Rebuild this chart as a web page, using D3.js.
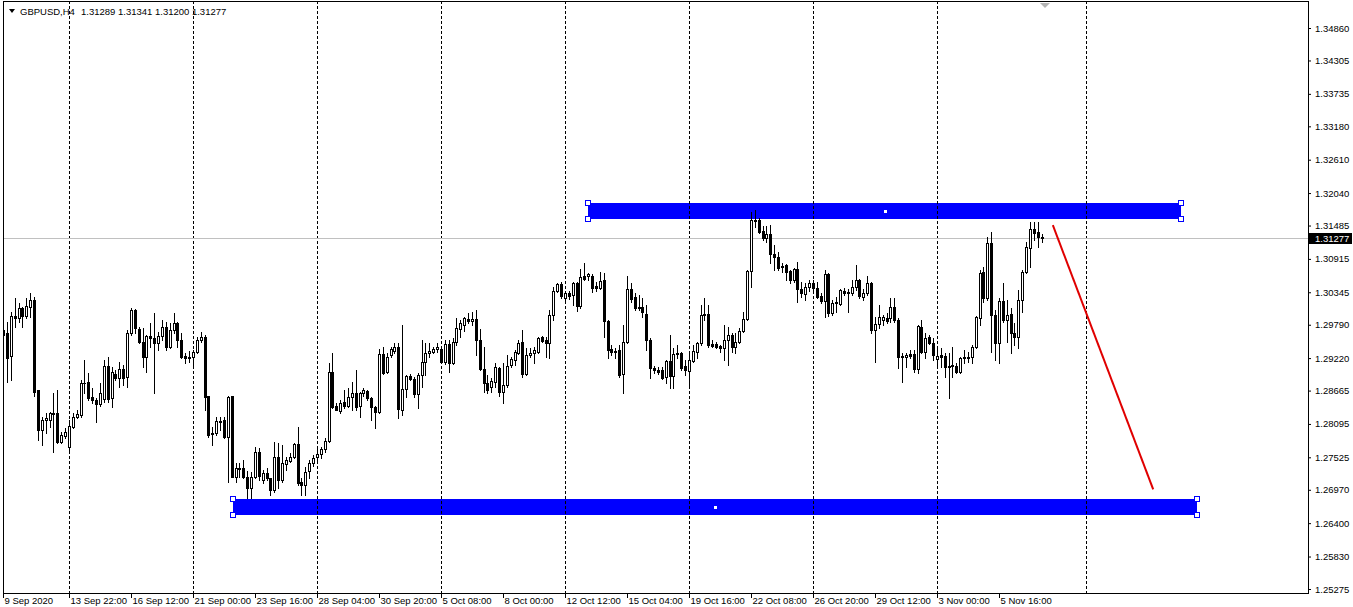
<!DOCTYPE html>
<html><head><meta charset="utf-8">
<script src="https://cdn.jsdelivr.net/npm/d3@7"></script>
<style>
html,body{margin:0;padding:0;background:#fff;overflow:hidden}
svg{display:block;font-family:Tahoma,"Liberation Sans",Arial,sans-serif}
</style></head><body>
<svg id="c" width="1353" height="607"></svg>
<script>
const symbolName = "GBPUSD,H4";

const openP = [
1.2970,1.2965,1.2926,1.2994,1.2990,1.3007,1.2994,1.3009,1.3021,1.2867,
1.2799,1.2816,1.2816,1.2828,1.2828,1.2779,1.2789,1.2770,1.2804,1.2821,
1.2824,1.2880,1.2882,1.2855,1.2850,1.2843,1.2852,1.2909,1.2853,1.2895,
1.2888,1.2904,1.2890,1.2965,1.3004,1.2972,1.2950,1.2924,1.2960,1.2956,
1.2948,1.2960,1.2975,1.2941,1.2970,1.2982,1.2953,1.2926,1.2922,1.2924,
1.2933,1.2953,1.2958,1.2858,1.2794,1.2794,1.2814,1.2816,1.2787,1.2857,
1.2719,1.2734,1.2734,1.2719,1.2700,1.2719,1.2762,1.2714,1.2726,1.2717,
1.2697,1.2753,1.2714,1.2741,1.2746,1.2753,1.2775,1.2711,1.2705,1.2729,
1.2743,1.2753,1.2758,1.2767,1.2780,1.2899,1.2841,1.2831,1.2847,1.2841,
1.2855,1.2862,1.2841,1.2862,1.2865,1.2853,1.2838,1.2830,1.2929,1.2899,
1.2927,1.2934,1.2941,1.2833,1.2869,1.2892,1.2887,1.2860,1.2893,1.2916,
1.2931,1.2933,1.2938,1.2938,1.2916,1.2946,1.2914,1.2950,1.2972,1.2979,
1.2989,1.2985,1.2989,1.2953,1.2904,1.2880,1.2873,1.2882,1.2905,1.2864,
1.2876,1.2910,1.2919,1.2931,1.2950,1.2895,1.2927,1.2931,1.2933,1.2958,
1.2953,1.2948,1.2995,1.3036,1.3048,1.3024,1.3033,1.3029,1.3050,1.3011,
1.3062,1.3062,1.3063,1.3045,1.3041,1.3055,1.2985,1.2938,1.2934,1.2936,
1.2895,1.2950,1.3040,1.3026,1.3009,1.3009,1.2997,1.2953,1.2905,1.2902,
1.2902,1.2890,1.2917,1.2892,1.2931,1.2931,1.2909,1.2900,1.2917,1.2933,
1.2948,1.2997,1.2997,1.2946,1.2946,1.2943,1.2939,1.2953,1.2961,1.2941,
1.2950,1.2968,1.2989,1.3070,1.3158,1.3158,1.3139,1.3127,1.3134,1.3100,
1.3094,1.3080,1.3081,1.3070,1.3055,1.3074,1.3040,1.3031,1.3043,1.3050,
1.3041,1.3028,1.3019,1.3065,1.2999,1.3016,1.3014,1.3036,1.3035,1.3033,
1.3043,1.3055,1.3026,1.3033,1.3050,1.2970,1.2980,1.2987,1.2990,1.2990,
1.3009,1.2987,1.2926,1.2924,1.2929,1.2929,1.2904,1.2975,1.2933,1.2958,
1.2948,1.2921,1.2927,1.2926,1.2909,1.2910,1.2909,1.2899,1.2924,1.2922,
1.2924,1.2941,1.2990,1.3069,1.3024,1.3119,1.2995,1.2948,1.3019,1.2987,
1.2997,1.2965,1.2958,1.3021,1.3069,1.3110,1.3143,1.3138,1.31289];

const highP = [
1.2987,1.2984,1.3001,1.3024,1.3016,1.3009,1.3024,1.3033,1.3026,1.2867,
1.2821,1.2828,1.2830,1.2862,1.2867,1.2796,1.2802,1.2816,1.2828,1.2833,
1.2885,1.2919,1.2897,1.2871,1.2853,1.2880,1.2919,1.2924,1.2907,1.2902,
1.2916,1.2910,1.2970,1.3007,1.3006,1.2975,1.2973,1.2961,1.2982,1.2999,
1.2967,1.2987,1.2984,1.2982,1.2999,1.2984,1.2965,1.2931,1.2934,1.2936,
1.2958,1.2967,1.2961,1.2858,1.2804,1.2821,1.2821,1.2821,1.2858,1.2858,
1.2743,1.2743,1.2748,1.2729,1.2728,1.2770,1.2768,1.2731,1.2734,1.2717,
1.2779,1.2777,1.2773,1.2753,1.2760,1.2777,1.2804,1.2717,1.2736,1.2748,
1.2756,1.2770,1.2770,1.2785,1.2914,1.2931,1.2845,1.2850,1.2867,1.2871,
1.2882,1.2902,1.2864,1.2871,1.2867,1.2855,1.2841,1.2937,1.2941,1.2931,
1.2941,1.2948,1.2948,1.2978,1.2893,1.2895,1.2890,1.2897,1.2953,1.2948,
1.2948,1.2941,1.2948,1.2941,1.2953,1.2953,1.2956,1.2990,1.2987,1.2992,
1.2999,1.3001,1.3004,1.2972,1.2941,1.2893,1.2888,1.2914,1.2907,1.2914,
1.2927,1.2924,1.2936,1.2953,1.2970,1.2939,1.2939,1.2941,1.2958,1.2960,
1.2958,1.3004,1.3043,1.3050,1.3052,1.3036,1.3036,1.3052,1.3052,1.3075,
1.3084,1.3067,1.3065,1.3052,1.3069,1.3067,1.2987,1.2944,1.2939,1.2944,
1.2979,1.3063,1.3050,1.3033,1.3029,1.3024,1.3012,1.2956,1.2909,1.2907,
1.2907,1.2919,1.2961,1.2939,1.2944,1.2933,1.2919,1.2933,1.2944,1.2950,
1.3012,1.3024,1.3012,1.2953,1.2950,1.2944,1.2979,1.2975,1.2965,1.2965,
1.2973,1.3001,1.3072,1.3172,1.3175,1.3161,1.3148,1.3148,1.3149,1.3116,
1.3104,1.3085,1.3083,1.3072,1.3076,1.3086,1.3052,1.3050,1.3055,1.3055,
1.3052,1.3033,1.3072,1.3067,1.3021,1.3026,1.3040,1.3041,1.3040,1.3055,
1.3081,1.3058,1.3040,1.3063,1.3052,1.2992,1.3012,1.2995,1.2999,1.3024,
1.3024,1.2990,1.2931,1.2931,1.2936,1.2936,1.2979,1.2987,1.2965,1.2961,
1.2956,1.2941,1.2939,1.2931,1.2931,1.2941,1.2914,1.2924,1.2936,1.2933,
1.2944,1.2994,1.3072,1.3077,1.3129,1.3138,1.3004,1.3024,1.3050,1.3021,
1.3007,1.2982,1.3038,1.3072,1.3121,1.3155,1.3155,1.3155,1.31341];

const lowP = [
1.2944,1.2882,1.2885,1.2975,1.2984,1.2975,1.2990,1.2992,1.2858,1.2782,
1.2773,1.2794,1.2804,1.2762,1.2777,1.2777,1.2785,1.2765,1.2802,1.2819,
1.2821,1.2862,1.2850,1.2845,1.2813,1.2841,1.2847,1.2847,1.2838,1.2885,
1.2873,1.2876,1.2873,1.2961,1.2965,1.2948,1.2907,1.2899,1.2941,1.2862,
1.2936,1.2953,1.2936,1.2939,1.2965,1.2941,1.2922,1.2914,1.2916,1.2911,
1.2931,1.2950,1.2833,1.2787,1.2773,1.2790,1.2799,1.2785,1.2711,1.2719,
1.2711,1.2719,1.2717,1.2683,1.2683,1.2717,1.2714,1.2709,1.2714,1.2688,
1.2694,1.2700,1.2711,1.2731,1.2745,1.2751,1.2705,1.2688,1.2688,1.2717,
1.2738,1.2745,1.2751,1.2762,1.2779,1.2836,1.2833,1.2828,1.2836,1.2838,
1.2833,1.2833,1.2821,1.2858,1.2850,1.2816,1.2802,1.2828,1.2895,1.2897,
1.2924,1.2931,1.2819,1.2824,1.2855,1.2885,1.2855,1.2836,1.2873,1.2893,
1.2924,1.2931,1.2933,1.2914,1.2912,1.2899,1.2912,1.2944,1.2958,1.2968,
1.2982,1.2979,1.2927,1.2902,1.2864,1.2862,1.2864,1.2873,1.2858,1.2845,
1.2873,1.2907,1.2911,1.2929,1.2890,1.2893,1.2924,1.2914,1.2931,1.2950,
1.2924,1.2922,1.2987,1.3035,1.3024,1.3021,1.3023,1.3012,1.3002,1.3007,
1.3055,1.3055,1.3035,1.3036,1.3040,1.2958,1.2922,1.2927,1.2922,1.2890,
1.2862,1.2948,1.3018,1.3004,1.3004,1.2992,1.2936,1.2888,1.2897,1.2895,
1.2887,1.2880,1.2871,1.2871,1.2922,1.2902,1.2893,1.2876,1.2916,1.2922,
1.2944,1.2987,1.2941,1.2941,1.2939,1.2933,1.2919,1.2911,1.2933,1.2931,
1.2948,1.2967,1.2987,1.3043,1.3146,1.3136,1.3124,1.3121,1.3085,1.3072,
1.3072,1.3069,1.3055,1.3050,1.3052,1.3018,1.3026,1.3021,1.3036,1.3038,
1.3024,1.3016,1.2992,1.2994,1.2995,1.3001,1.3012,1.3029,1.3001,1.3029,
1.3038,1.3024,1.3021,1.3029,1.2965,1.2916,1.2973,1.2979,1.2982,1.2984,
1.2984,1.2905,1.2882,1.2907,1.2922,1.2899,1.2897,1.2931,1.2922,1.2946,
1.2919,1.2907,1.2907,1.2890,1.2853,1.2890,1.2897,1.2897,1.2914,1.2916,
1.2914,1.2939,1.2979,1.3018,1.3021,1.2933,1.2919,1.2914,1.2984,1.2950,
1.2931,1.2944,1.2939,1.3001,1.3067,1.3078,1.3124,1.3112,1.31200];

const closeP = [
1.2961,1.2922,1.2994,1.2990,1.3007,1.2994,1.3011,1.3021,1.2864,1.2799,
1.2816,1.2819,1.2828,1.2827,1.2779,1.2790,1.2796,1.2806,1.2821,1.2826,
1.2880,1.2879,1.2853,1.2850,1.2843,1.2862,1.2909,1.2852,1.2899,1.2888,
1.2904,1.2888,1.2965,1.3004,1.2973,1.2950,1.2924,1.2960,1.2956,1.2948,
1.2960,1.2975,1.2941,1.2970,1.2982,1.2953,1.2924,1.2922,1.2924,1.2933,
1.2953,1.2958,1.2855,1.2790,1.2792,1.2814,1.2813,1.2787,1.2855,1.2719,
1.2734,1.2733,1.2719,1.2700,1.2719,1.2762,1.2721,1.2726,1.2717,1.2697,
1.2753,1.2714,1.2743,1.2748,1.2753,1.2775,1.2709,1.2705,1.2728,1.2743,
1.2751,1.2758,1.2767,1.2780,1.2899,1.2838,1.2833,1.2845,1.2841,1.2855,
1.2862,1.2838,1.2862,1.2867,1.2853,1.2838,1.2830,1.2929,1.2897,1.2924,
1.2938,1.2941,1.2835,1.2869,1.2892,1.2887,1.2860,1.2893,1.2916,1.2931,
1.2934,1.2938,1.2941,1.2916,1.2946,1.2914,1.2950,1.2973,1.2982,1.2990,
1.2985,1.2989,1.2953,1.2904,1.2880,1.2867,1.2883,1.2907,1.2864,1.2876,
1.2909,1.2921,1.2933,1.2948,1.2895,1.2927,1.2931,1.2936,1.2956,1.2951,
1.2948,1.2995,1.3036,1.3048,1.3028,1.3033,1.3028,1.3050,1.3011,1.3060,
1.3058,1.3065,1.3041,1.3041,1.3053,1.2985,1.2936,1.2933,1.2932,1.2893,
1.2950,1.3040,1.3023,1.3007,1.3008,1.3001,1.2953,1.2905,1.2902,1.2899,
1.2888,1.2917,1.2892,1.2929,1.2929,1.2905,1.2902,1.2919,1.2934,1.2948,
1.2995,1.2995,1.2944,1.2943,1.2941,1.2939,1.2953,1.2961,1.2941,1.2950,
1.2968,1.2989,1.3070,1.3158,1.3156,1.3138,1.3127,1.3134,1.3100,1.3094,
1.3076,1.3078,1.3069,1.3055,1.3074,1.3040,1.3033,1.3043,1.3050,1.3041,
1.3026,1.3019,1.3065,1.2999,1.3016,1.3018,1.3038,1.3033,1.3033,1.3043,
1.3055,1.3028,1.3033,1.3050,1.2970,1.2980,1.2992,1.2992,1.2985,1.3009,
1.2987,1.2924,1.2924,1.2927,1.2926,1.2904,1.2977,1.2933,1.2956,1.2948,
1.2927,1.2926,1.2924,1.2907,1.2907,1.2909,1.2899,1.2922,1.2922,1.2924,
1.2941,1.2992,1.3067,1.3024,1.3119,1.2995,1.2948,1.3019,1.2987,1.2995,
1.2965,1.2958,1.3021,1.3069,1.3112,1.3143,1.3136,1.3129,1.31277];

const timeLabels = ["9 Sep 2020","13 Sep 22:00","16 Sep 12:00","21 Sep 00:00","23 Sep 16:00",
  "28 Sep 04:00","30 Sep 20:00","5 Oct 08:00","8 Oct 00:00","12 Oct 12:00","15 Oct 04:00",
  "19 Oct 16:00","22 Oct 08:00","26 Oct 20:00","29 Oct 12:00","3 Nov 00:00","5 Nov 16:00"];
const timeLabelBars = [0,17,33,49,65,81,97,113,129,145,161,177,193,209,225,241,257];
const gridBars = [17,49,81,113,145,177,209,241,279.5];

const priceTicks = [1.34860,1.34305,1.33735,1.33180,1.32610,1.32040,1.31485,1.30915,1.30345,
  1.29790,1.29220,1.28665,1.28095,1.27525,1.26970,1.26400,1.25830,1.25275];

const zoneBarStart = [151, 59.4];
const zoneBarEnd   = [304, 308.1];
const zoneTop      = [1.31867, 1.26805];
const zoneBottom   = [1.31593, 1.26532];

const trendBars   = [270.9, 296.8];
const trendPrices = [1.31491, 1.26976];

const n = openP.length;
const last = n - 1;
const lastPrice = closeP[last];

const svg = d3.select("#c");
const PL = 3, PR = 1308, PT = 1, PB = 593;

const x = d3.scaleLinear().domain([0, last]).range([3.1, 1041.6]);
const y = d3.scaleLinear().domain([1.25275, 1.34860]).range([589, 28]);
const px = v => Math.round(x(v));
const py = v => Math.round(y(v));

svg.append("defs").append("clipPath").attr("id","plot")
  .append("rect").attr("x",PL+1).attr("y",PT+1).attr("width",PR-PL-1).attr("height",PB-PT-1);
const plot = svg.append("g").attr("clip-path","url(#plot)");

// zones (background)
const zones = d3.range(zoneTop.length);
plot.selectAll("rect.zone").data(zones).join("rect").attr("class","zone")
  .attr("x", i => px(zoneBarStart[i]))
  .attr("y", i => py(zoneTop[i]))
  .attr("width", i => px(zoneBarEnd[i]) - px(zoneBarStart[i]))
  .attr("height", i => py(zoneBottom[i]) - py(zoneTop[i]))
  .attr("fill", "#0000ff");

// grid
plot.selectAll("line.grid").data(gridBars).join("line").attr("class","grid")
  .attr("x1", d => px(d) + 0.5).attr("x2", d => px(d) + 0.5)
  .attr("y1", PT).attr("y2", PB)
  .attr("stroke", "#000").attr("stroke-width", 1).attr("stroke-dasharray", "3,2");

// last price line
plot.append("line")
  .attr("x1", PL).attr("x2", PR).attr("y1", py(lastPrice) + 0.5).attr("y2", py(lastPrice) + 0.5)
  .attr("stroke", "#c0c0c0").attr("stroke-width", 1);

// candles
const idx = d3.range(n);
const cg = plot.append("g");
cg.selectAll("rect.wick").data(idx).join("rect").attr("class","wick")
  .attr("x", i => px(i)).attr("y", i => py(highP[i]))
  .attr("width", 1).attr("height", i => Math.max(1, py(lowP[i]) - py(highP[i]) + 1))
  .attr("fill", "#000");
cg.selectAll("rect.body").data(idx).join("rect").attr("class","body")
  .attr("x", i => px(i) - 1)
  .attr("y", i => Math.min(py(openP[i]), py(closeP[i])))
  .attr("width", 3)
  .attr("height", i => Math.abs(py(openP[i]) - py(closeP[i])) + 1)
  .attr("fill", "#000");
const bulls = idx.filter(i => closeP[i] > openP[i] && Math.abs(py(openP[i]) - py(closeP[i])) >= 2);
cg.selectAll("rect.fill").data(bulls).join("rect").attr("class","fill")
  .attr("x", i => px(i))
  .attr("y", i => py(closeP[i]) + 1)
  .attr("width", 1)
  .attr("height", i => py(openP[i]) - py(closeP[i]) - 1)
  .attr("fill", "#fff");

// trend line
plot.append("line")
  .attr("x1", x(trendBars[0])).attr("y1", y(trendPrices[0]))
  .attr("x2", x(trendBars[1])).attr("y2", y(trendPrices[1]))
  .attr("stroke", "#e00000").attr("stroke-width", 2);

// zone handles
zones.forEach(i => {
  const x0 = px(zoneBarStart[i]), x1 = px(zoneBarEnd[i]);
  const y0 = py(zoneTop[i]), y1 = py(zoneBottom[i]);
  [[x0,y0],[x0,y1],[x1,y0],[x1,y1]].forEach(([a,b]) => {
    svg.append("rect").attr("x", a - 2.5).attr("y", b - 2.5).attr("width", 5).attr("height", 5)
      .attr("fill", "#fff").attr("stroke", "#0000ff").attr("stroke-width", 1);
  });
  svg.append("rect").attr("x", Math.round((x0 + x1) / 2) - 1).attr("y", Math.round((y0 + y1) / 2) - 1)
    .attr("width", 3).attr("height", 3).attr("fill", "#fff");
});

// chart shift marker
svg.append("path").attr("d", `M${px(last) - 2},3 L${px(last) + 8},3 L${px(last) + 3},8 Z`).attr("fill", "#b4b4b4");

// frame
svg.append("rect").attr("x", PL + 0.5).attr("y", PT + 0.5).attr("width", PR - PL).attr("height", PB - PT)
  .attr("fill", "none").attr("stroke", "#000");

// right price axis
const yAxis = d3.axisRight(y).tickValues(priceTicks).tickFormat(d3.format(".5f"))
  .tickSize(3).tickSizeOuter(0).tickPadding(4);
const ya = svg.append("g").attr("transform", `translate(${PR},0)`).call(yAxis);
ya.select(".domain").remove();
ya.attr("font-family", null).attr("font-size", null);
ya.selectAll("text").attr("font-size", "9.5px").attr("fill", "#000");
ya.selectAll("line").attr("stroke", "#000");

// last price box
svg.append("rect").attr("x", PR + 1).attr("y", py(lastPrice) - 5).attr("width", 43).attr("height", 11).attr("fill", "#000");
svg.append("text").attr("x", PR + 7).attr("y", py(lastPrice) + 4)
  .attr("font-size", "9.5px").attr("fill", "#fff").text(d3.format(".5f")(lastPrice));

// bottom time axis
const xAxis = d3.axisBottom(x).tickValues(timeLabelBars).tickFormat((d, i) => timeLabels[i])
  .tickSize(5).tickSizeOuter(0);
const xa = svg.append("g").attr("transform", `translate(0,${PB})`).call(xAxis);
xa.select(".domain").remove();
xa.attr("font-family", null).attr("font-size", null);
xa.selectAll(".tick").attr("transform", d => `translate(${px(d) + 0.5},0)`);
xa.selectAll("text").attr("font-size", "9.5px").attr("fill", "#000")
  .attr("text-anchor", "start").attr("x", 1).attr("y", 11).attr("dy", 0);
xa.selectAll("line").attr("stroke", "#000");

// header
svg.append("path").attr("d", "M9,9 L15,9 L12,13 Z").attr("fill", "#000");
svg.append("text").attr("x", 20).attr("y", 15).attr("font-size", "9.5px").attr("fill", "#000").text(symbolName);
svg.append("text").attr("x", 81).attr("y", 15).attr("font-size", "9.5px").attr("fill", "#000")
  .text([openP[last], highP[last], lowP[last], closeP[last]].map(d3.format(".5f")).join(" "));
</script>
</body></html>
